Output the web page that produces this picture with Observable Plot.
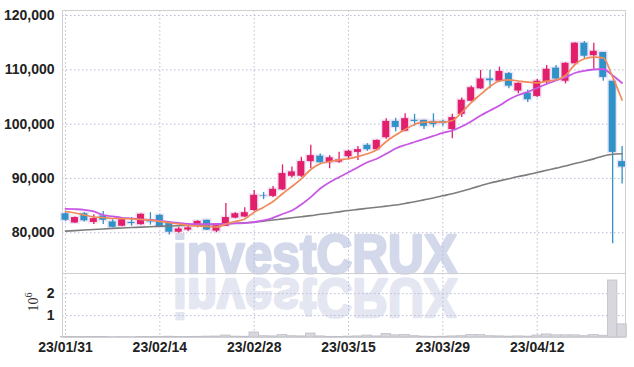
<!DOCTYPE html>
<html><head><meta charset="utf-8">
<script src="https://cdn.jsdelivr.net/npm/d3@7"></script>
<script src="https://cdn.jsdelivr.net/npm/@observablehq/plot@0.6"></script>
<style>
body{margin:0;background:#fff;}
#wrap{position:relative;width:634px;height:367px;overflow:hidden;background:#fff;}
#wm{position:absolute;left:0;top:0;}
#price,#vol{position:absolute;left:0;}
#price{top:0;}
#vol{top:273px;}
</style></head><body>
<div id="wrap">
<svg id="wm" width="634" height="367">
  <text x="173" y="273" font-family="'Liberation Sans', Arial, sans-serif" font-weight="700" font-size="56" textLength="284" lengthAdjust="spacingAndGlyphs" fill="#d3d9ea" stroke="#d3d9ea" stroke-width="2.6" stroke-linejoin="round">investCRUX</text>
  <text x="173" y="273" transform="translate(0,552) scale(1,-1)" font-family="'Liberation Sans', Arial, sans-serif" font-weight="700" font-size="56" textLength="284" lengthAdjust="spacingAndGlyphs" fill="#e4e7f1" stroke="#e4e7f1" stroke-width="2.6" stroke-linejoin="round">investCRUX</text>
  <text transform="translate(38,302) rotate(-90)" text-anchor="middle" font-family="'Liberation Serif', serif" font-size="14" fill="#333">10<tspan dy="-6" font-size="10">6</tspan></text>
</svg>
<div id="price"></div>
<div id="vol"></div>
</div>
<script>
const dates = ["23/01/31","23/02/01","23/02/02","23/02/03","23/02/06","23/02/07","23/02/08","23/02/09","23/02/10","23/02/13",
"23/02/14","23/02/15","23/02/16","23/02/17","23/02/20","23/02/21","23/02/22","23/02/23","23/02/24","23/02/27",
"23/02/28","23/03/02","23/03/03","23/03/06","23/03/07","23/03/08","23/03/09","23/03/10","23/03/13","23/03/14",
"23/03/15","23/03/16","23/03/17","23/03/20","23/03/21","23/03/22","23/03/23","23/03/24","23/03/27","23/03/28",
"23/03/29","23/03/30","23/03/31","23/04/03","23/04/04","23/04/05","23/04/06","23/04/07","23/04/10","23/04/11",
"23/04/12","23/04/13","23/04/14","23/04/17","23/04/18","23/04/19","23/04/20","23/04/21","23/04/24","23/04/25"];
const open = [83500,81800,83500,81900,83100,82000,81200,81900,81500,82300,83200,81700,80100,80500,81300,82300,80300,81200,82700,82900,84100,86800,86700,87900,90400,90400,93100,94100,92900,93000,94000,94800,96100,95300,97500,100500,98700,100700,100700,100500,100500,99000,101800,104200,106500,108300,107900,109300,106100,105700,105100,107700,110300,107900,111100,114900,112600,113200,107900,93100];
const high = [83700,82900,83700,83300,83900,82400,82600,82800,83500,83700,83400,81900,81000,81400,82200,82300,81500,85400,83700,84600,87800,87400,88500,92500,92100,93900,96100,94500,94200,94800,95200,95900,96400,97100,101000,101100,101900,101800,100700,101900,100700,101800,104800,107000,109900,109900,110500,109500,107600,106300,108200,110800,110800,111300,115000,115200,114900,113200,107900,95900];
const low = [82100,81700,82000,81500,81500,80900,81100,81200,81400,81400,80900,79600,79900,80200,80900,80400,80000,81200,82600,82800,83900,86100,86500,87800,90100,90200,91800,92800,91800,92800,93400,93300,95000,95100,97200,98600,98600,99600,99000,99300,99600,97300,101200,104200,106400,106500,107700,106500,105600,104000,104900,107300,108000,107400,111100,112100,110100,107900,78000,89000];
const close = [82300,82800,82200,82600,82300,81000,82400,81700,83400,82000,81000,80100,80700,80900,82100,80500,81300,82800,83500,83700,86900,86700,88000,90900,91200,93100,94200,92900,93800,93400,95000,95300,95300,97000,100500,99400,101000,100500,99600,99900,100100,101200,104400,106700,108300,108000,109700,107000,107500,104500,107900,110100,108300,111200,114900,112500,113400,108600,94800,92100];
const volume = [30000,25000,20000,25000,20000,15000,18000,15000,25000,20000,30000,35000,25000,20000,30000,40000,45000,90000,40000,35000,230000,60000,50000,110000,60000,50000,180000,50000,30000,25000,40000,50000,90000,50000,160000,100000,110000,60000,40000,30000,35000,50000,60000,110000,110000,60000,50000,40000,50000,40000,90000,140000,100000,100000,100000,60000,110000,80000,2600000,600000];
const maShort = [83920,83640,83270,82900,82810,82630,82630,82540,82440,82350,82080,81840,81620,81340,81250,81160,81030,81620,82080,82540,83790,84710,85760,87180,88520,89940,91650,92700,93120,93430,93620,94040,94540,95280,96800,98000,99010,99930,100360,100360,100360,100670,102140,103980,105460,106930,107940,108160,107940,107720,107610,107910,108160,108950,110980,112030,112320,112210,108640,104440];
const maMid = [84380,84340,84230,83920,83270,83000,82760,82630,82480,82350,82170,81980,81800,81650,81600,81600,81610,81650,81710,81760,81980,82260,82750,83460,84100,85210,86550,88150,89310,90230,91150,92070,92990,93620,94540,95520,96160,96710,97265,97820,98370,98830,99565,100490,101590,102510,103430,104530,105365,105920,106650,107390,108030,108640,109410,109820,110060,110150,108955,107570];
const maLong = [80300,80400,80500,80600,80700,80800,80880,80960,81040,81120,81200,81250,81300,81350,81400,81450,81550,81650,81750,81850,81950,82150,82350,82550,82750,82950,83150,83400,83600,83850,84100,84300,84500,84700,84900,85100,85400,85700,86050,86400,86800,87200,87650,88150,88650,89150,89550,89950,90350,90700,91100,91500,91900,92300,92750,93150,93600,94150,94450,94550];
const tickIdx = [0,10,20,30,40,50];
const priceTicks = [80000,90000,100000,110000,120000];
const volTicks = [1000000,2000000];

const rows = dates.map((d,i)=>({i, o:open[i], h:high[i], l:low[i], c:close[i], v:volume[i], up: close[i]>=open[i],
  m1:maShort[i], m2:maMid[i], m3:maLong[i]}));
const UP="#e31e6b", DOWN="#2f92c8";
const xDomain=[-0.32,59.36];
const font = {fontFamily:"'Liberation Sans Narrow', sans-serif", fontSize:"14px", fontWeight:"bold", color:"#222", background:"transparent", overflow:"visible"};
const dotted = {stroke:"#b7bbd6", strokeOpacity:1, strokeDasharray:"1.5,2.5", strokeWidth:1};
const hw = 0.37;

const price = Plot.plot({
  width:634, height:273, marginTop:10, marginBottom:0, marginLeft:62, marginRight:9,
  style: font,
  x:{domain:xDomain, axis:null},
  y:{domain:[72500,120920], ticks:priceTicks, tickFormat:d3.format(","), tickSize:0, tickPadding:8, label:null},
  marks:[
    Plot.ruleX(tickIdx, dotted),
    Plot.ruleY(priceTicks, dotted),
    Plot.frame({stroke:"#cfcfd4"}),
    Plot.rect(rows, {x1:d=>d.i-hw, x2:d=>d.i+hw, y1:"o", y2:"c", fill:"none", stroke:"#eee4f4", strokeWidth:3}),
    Plot.ruleX(rows, {x:"i", y1:"l", y2:"h", stroke:d=>d.up?UP:DOWN, strokeWidth:1.3}),
    Plot.rect(rows, {x1:d=>d.i-hw, x2:d=>d.i+hw, y1:"o", y2:"c", fill:d=>d.up?UP:DOWN}),
    Plot.line(rows, {x:"i", y:"m3", stroke:"#7d7d7d", strokeWidth:1.6, curve:"monotone-x"}),
    Plot.line(rows, {x:"i", y:"m2", stroke:"#c957e6", strokeWidth:1.8, curve:"monotone-x"}),
    Plot.line(rows, {x:"i", y:"m1", stroke:"#f08a58", strokeWidth:1.7, curve:"monotone-x"})
  ]
});
document.getElementById("price").appendChild(price);

const vol = Plot.plot({
  width:634, height:94, marginTop:0, marginBottom:30, marginLeft:62, marginRight:9,
  style: font,
  x:{domain:xDomain, ticks:tickIdx, tickFormat:i=>dates[i], tickSize:0, tickPadding:5, label:null},
  y:{domain:[0,2920000], ticks:volTicks, tickFormat:d=>d/1e6, tickSize:0, tickPadding:8, label:null},
  marks:[
    Plot.ruleX(tickIdx, dotted),
    Plot.ruleY(volTicks, dotted),
    Plot.rect(rows, {x1:d=>d.i-0.5, x2:d=>d.i+0.5, y1:0, y2:"v", fill:"#d7d7dd", stroke:"#bfbfc7", strokeWidth:0.8}),
    Plot.frame({stroke:"#cfcfd4"})
  ]
});
document.getElementById("vol").appendChild(vol);
</script>
</body></html>
